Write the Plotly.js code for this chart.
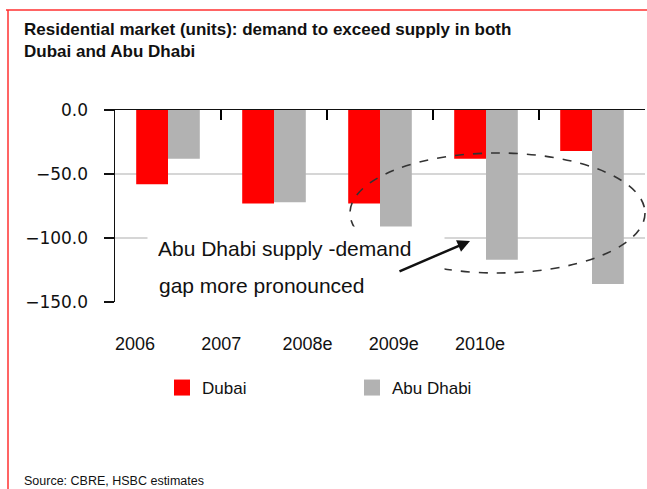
<!DOCTYPE html>
<html>
<head>
<meta charset="utf-8">
<script src="https://cdn.plot.ly/plotly-3.0.1.min.js"></script>
<style>html,body{margin:0;padding:0;background:#fff;}#chart{width:647px;height:489px;}</style>
</head>
<body>
<div id="chart"></div>
<script>
// ---- data ----
const categories = ["2006", "2007", "2008e", "2009e", "2010e"];
const dubai = [-58, -73, -73, -38, -32];
const abuDhabi = [-38, -72, -94, -117, -136];
const yTicks = [0, -50, -100, -150];
const seriesNames = ["Dubai", "Abu Dhabi"];
const seriesColors = ["#ff0000", "#b2b2b2"];

// ---- layout helpers (pixel -> paper) ----
const W = 647, H = 489;
const L = 115, R = 2, T = 110, B = 187;
const PW = W - L - R, PH = H - T - B;
const px = x => (x - L) / PW;
const py = y => (H - B - y) / PH;

const catIdx = categories.map((c, i) => i);
const xRange = [-0.5, categories.length - 0.5];
const boundaries = catIdx.slice(1).map(i => i - 0.5);

const traces = [
  {type: "bar", name: seriesNames[0], x: catIdx, y: dubai, text: categories,
   marker: {color: seriesColors[0]}, hoverinfo: "text+y", textposition: "none",
   showlegend: false, legendgroup: "d"},
  {type: "bar", name: seriesNames[1], x: catIdx, y: abuDhabi, text: categories,
   marker: {color: seriesColors[1]}, hoverinfo: "text+y", textposition: "none",
   showlegend: false, legendgroup: "a"},
  // legend entries with larger square keys (no plotted points)
  {type: "scatter", mode: "markers", name: seriesNames[0], x: [null], y: [null],
   marker: {symbol: "square", size: 16, color: seriesColors[0]}, legendgroup: "d", hoverinfo: "skip"},
  {type: "scatter", mode: "markers", name: seriesNames[1], x: [null], y: [null],
   marker: {symbol: "square", size: 16, color: seriesColors[1]}, legendgroup: "a", hoverinfo: "skip"},
  // carrier for the category label axis (no visible marks)
  {type: "scatter", mode: "markers", x: catIdx, y: catIdx.map(() => null),
   xaxis: "x2", yaxis: "y", showlegend: false, hoverinfo: "skip", marker: {opacity: 0}}
];

// downward tick marks at category boundaries on the top (zero) axis line
const boundaryTicks = boundaries.map(b => {
  const xp = (b - xRange[0]) / (xRange[1] - xRange[0]);
  return {type: "line", xref: "paper", yref: "paper",
    x0: xp, x1: xp, y0: 1, y1: 1 - 10 / PH, line: {color: "#000000", width: 2}, layer: "above"};
});

const layout = {
  width: W, height: H,
  margin: {l: L, r: R, t: T, b: B, pad: 0},
  paper_bgcolor: "#ffffff", plot_bgcolor: "#ffffff",
  font: {family: "Liberation Sans, Arial, sans-serif", color: "#111"},
  barmode: "group", bargap: 0.4, bargroupgap: 0,
  showlegend: true,
  title: {
    text: "Residential market (units): demand to exceed supply in both<br>Dubai and Abu Dhabi",
    font: {family: "Liberation Sans, Arial, sans-serif", size: 17, weight: "bold", color: "#111"},
    xref: "container", yref: "container", x: 24 / W, xanchor: "left",
    y: 1 - 35 / H, yanchor: "top", pad: {t: 0, l: 0}
  },
  xaxis: {
    side: "top", range: xRange,
    showline: true, linecolor: "#111", linewidth: 1.5,
    tickmode: "array", tickvals: boundaries,
    ticks: "inside", ticklen: 10, tickwidth: 2, tickcolor: "#000000",
    showticklabels: false, showgrid: false, zeroline: false, fixedrange: true
  },
  xaxis2: {
    overlaying: "x", anchor: "free", position: 0, side: "bottom",
    range: [-(135 - L) / 86.25, 4 + (W - R - 480) / 86.25],
    tickmode: "array", tickvals: catIdx, ticktext: categories,
    ticks: "", showline: false, showgrid: false, zeroline: false,
    ticklabelstandoff: 29,
    tickfont: {size: 18, color: "#111"}, fixedrange: true
  },
  yaxis: {
    range: [-150, 0], tickmode: "array", tickvals: yTicks, tickformat: ".1f",
    showline: true, linecolor: "#111", linewidth: 1.5,
    ticks: "outside", ticklen: 10, tickwidth: 1.5, tickcolor: "#111",
    showgrid: true, gridcolor: "#d6d6d6", gridwidth: 1.2,
    zeroline: false, ticklabelstandoff: 12,
    tickfont: {family: "DejaVu Sans, sans-serif", size: 17, color: "#111"}, fixedrange: true
  },
  legend: {
    orientation: "h", x: px(162), xanchor: "left", y: py(388), yanchor: "middle",
    font: {size: 17, color: "#111"}, entrywidth: 145, entrywidthmode: "pixels",
    bgcolor: "rgba(0,0,0,0)", traceorder: "normal", itemsizing: "trace"
  },
  shapes: [
    {type: "line", xref: "paper", yref: "paper", x0: px(6), x1: px(W), y0: py(10), y1: py(10),
     line: {color: "#ff3030", width: 1.5}},
    {type: "line", xref: "paper", yref: "paper", x0: px(8), x1: px(8), y0: py(10), y1: py(H),
     line: {color: "#ff3030", width: 1.5}},
    {type: "circle", xref: "paper", yref: "paper", x0: px(350), x1: px(645), y0: py(273), y1: py(153),
     line: {color: "#333", width: 1.6, dash: "dash"}, layer: "above"}
  ].concat(boundaryTicks),
  annotations: [
    {text: "Abu Dhabi supply -demand", xref: "paper", yref: "paper", x: px(147), y: py(248),
     xanchor: "left", yanchor: "middle", showarrow: false, align: "left",
     width: 276, borderpad: 10, bgcolor: "#ffffff",
     font: {size: 21, color: "#111"}},
    {text: "gap more pronounced", xref: "paper", yref: "paper", x: px(157), y: py(285),
     xanchor: "left", yanchor: "middle", showarrow: false, align: "left",
     font: {size: 21, color: "#111"}},
    {text: "", xref: "paper", yref: "paper", x: px(470), y: py(241),
     axref: "pixel", ayref: "pixel", ax: -72, ay: 31,
     showarrow: true, arrowhead: 2, arrowsize: 1, arrowwidth: 2.5, arrowcolor: "#111"},
    {text: "Source: CBRE, HSBC estimates", xref: "paper", yref: "paper", x: px(22), y: py(481),
     xanchor: "left", yanchor: "middle", showarrow: false,
     font: {family: "Liberation Sans, Arial, sans-serif", size: 12.5, color: "#111"}}
  ]
};

Plotly.newPlot("chart", traces, layout, {displayModeBar: false, staticPlot: true});
</script>
</body>
</html>
